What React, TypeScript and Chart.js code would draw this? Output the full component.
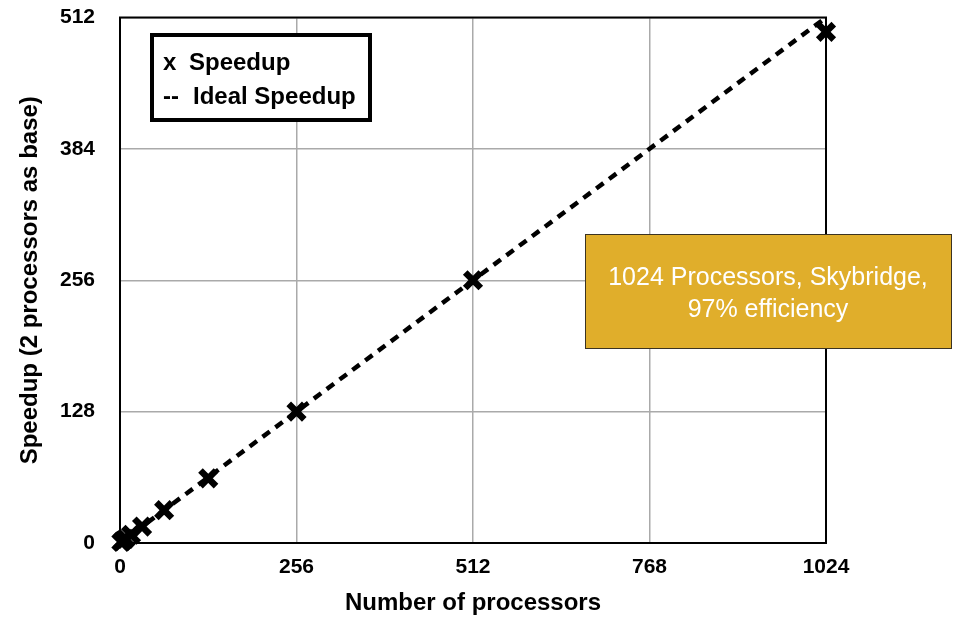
import React, { useEffect, useRef } from "react";
import { Chart, registerables } from "chart.js";

Chart.register(...registerables);

// Data
const processors = [2, 4, 8, 16, 32, 64, 128, 256, 512, 1024];
const speedup = [1, 2, 4, 8, 16, 32, 63, 128, 256, 498];
const idealProcessors = [2, 1024];
const idealSpeedup = [1, 512];
const xTickValues = [0, 256, 512, 768, 1024];
const yTickValues = [0, 128, 256, 384, 512];
const legendLines = ["x", "Speedup", "--", "Ideal Speedup"];
const noteLines = ["1024 Processors, Skybridge,", "97% efficiency"];
const xTitle = "Number of processors";
const yTitle = "Speedup (2 processors as base)";

const FONT = "'Liberation Sans', Arial, Helvetica, sans-serif";

const overlayPlugin = {
  id: "overlay",
  beforeDatasetsDraw(chart: any) {
    const { ctx, chartArea } = chart;
    ctx.save();
    ctx.strokeStyle = "#000";
    ctx.lineWidth = 2;
    ctx.strokeRect(chartArea.left, chartArea.top, chartArea.right - chartArea.left, chartArea.bottom - chartArea.top);
    ctx.restore();
  },
  afterDraw(chart: any) {
    const { ctx } = chart;
    ctx.save();
    // legend box
    ctx.fillStyle = "#fff";
    ctx.fillRect(152, 35, 218, 85);
    ctx.strokeStyle = "#000";
    ctx.lineWidth = 4;
    ctx.strokeRect(152, 35, 218, 85);
    ctx.fillStyle = "#000";
    ctx.font = `bold 24px ${FONT}`;
    ctx.textBaseline = "alphabetic";
    ctx.textAlign = "left";
    ctx.fillText(legendLines[0], 163, 70);
    ctx.fillText(legendLines[1], 189, 70);
    ctx.fillText(legendLines[2], 163, 104);
    ctx.fillText(legendLines[3], 193, 104);

    // annotation box
    ctx.fillStyle = "#E0AE2B";
    ctx.fillRect(585, 234, 366, 114);
    ctx.strokeStyle = "#3b3322";
    ctx.lineWidth = 1;
    ctx.strokeRect(585.5, 234.5, 366, 114);
    ctx.fillStyle = "#fff";
    ctx.font = `25px ${FONT}`;
    ctx.textAlign = "center";
    ctx.textBaseline = "middle";
    ctx.fillText(noteLines[0], 768, 278);
    ctx.fillText(noteLines[1], 768, 310);
    ctx.restore();
  },
};

export default function App() {
  const ref = useRef<HTMLCanvasElement>(null);
  useEffect(() => {
    if (!ref.current) return;
    const chart = new Chart(ref.current, {
      type: "scatter",
      data: {
        datasets: [
          {
            label: "Ideal Speedup",
            data: idealProcessors.map((x, i) => ({ x, y: idealSpeedup[i] })),
            showLine: true,
            borderColor: "#000",
            borderWidth: 4.5,
            borderDash: [9, 7],
            pointRadius: 0,
            clip: false as any,
          },
          {
            label: "Speedup",
            data: processors.map((x, i) => ({ x, y: speedup[i] })),
            showLine: false,
            pointStyle: "crossRot",
            pointRadius: 11,
            borderWidth: 6.5,
            borderColor: "#000",
            backgroundColor: "#000",
            clip: false as any,
          },
        ],
      },
      options: {
        responsive: false,
        animation: false,
        layout: { padding: { left: 0, right: 127, top: 15, bottom: 0 } },
        plugins: { legend: { display: false }, tooltip: { enabled: false } },
        scales: {
          x: {
            type: "linear",
            min: 0,
            max: 1024,
            afterBuildTicks: (s: any) => {
              s.ticks = xTickValues.map((v) => ({ value: v }));
            },
            afterFit: (s: any) => {
              s.height = 77;
              s.paddingLeft = 0;
              s.paddingRight = 0;
            },
            ticks: {
              color: "#000",
              font: { family: FONT, size: 21, weight: "bold" },
              padding: 12,
              maxRotation: 0,
              callback: (v: any) => String(v),
            },
            grid: { color: "#aaaaaa", lineWidth: 1.5, drawTicks: false },
            border: { display: true, color: "#000", width: 2 },
            title: {
              display: true,
              text: xTitle,
              color: "#000",
              font: { family: FONT, size: 24, weight: "bold" },
              padding: { top: 0, bottom: 2 },
            },
          },
          y: {
            type: "linear",
            min: 0,
            max: 512,
            afterBuildTicks: (s: any) => {
              s.ticks = yTickValues.map((v) => ({ value: v }));
            },
            afterFit: (s: any) => {
              s.width = 120;
              s.paddingTop = 0;
              s.paddingBottom = 0;
            },
            ticks: {
              color: "#000",
              font: { family: FONT, size: 21, weight: "bold" },
              padding: 25,
              callback: (v: any) => String(v),
            },
            grid: { color: "#aaaaaa", lineWidth: 1.5, drawTicks: false },
            border: { display: true, color: "#000", width: 2 },
            title: {
              display: true,
              text: yTitle,
              color: "#000",
              font: { family: FONT, size: 24, weight: "bold" },
              padding: { top: 16, bottom: 0 },
            },
          },
        },
      },
      plugins: [overlayPlugin],
    });
    return () => chart.destroy();
  }, []);
  return (
    <div style={{ position: "fixed", left: 0, top: 0, width: 953, height: 620, background: "#fff" }}>
      <canvas ref={ref} width={953} height={620} />
    </div>
  );
}
